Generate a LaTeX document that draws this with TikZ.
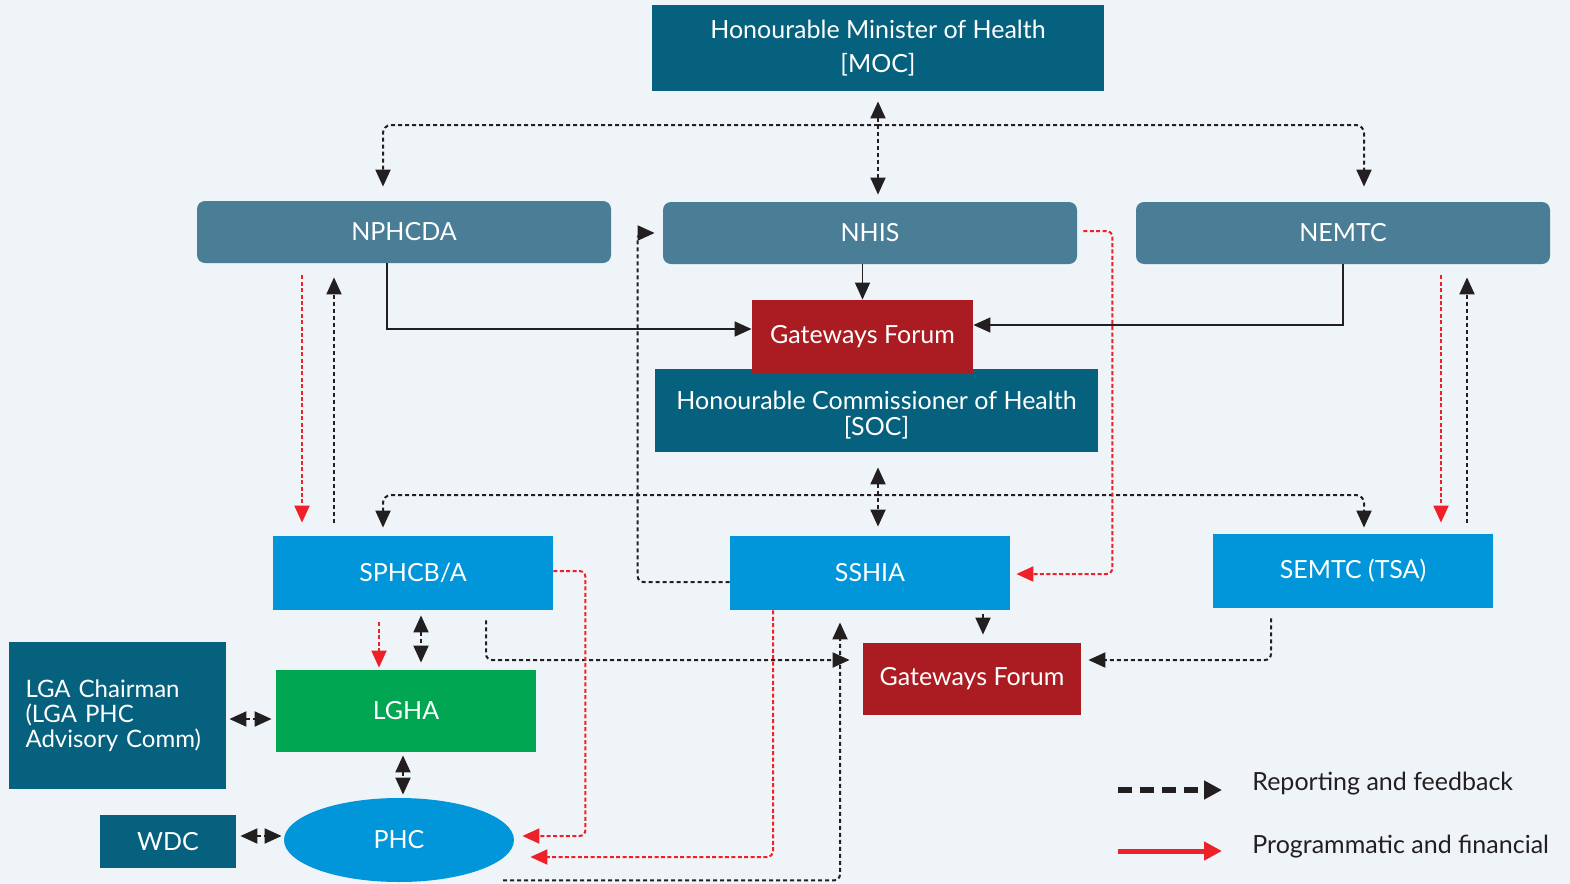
\documentclass[tikz,border=0pt]{standalone}
\usepackage{fontspec}
\setmainfont{Lato}
\usetikzlibrary{arrows.meta,calc,shapes.geometric}
\definecolor{bgpale}{HTML}{EFF4F8}
\definecolor{deepteal}{HTML}{05617D}
\definecolor{steel}{HTML}{4A7E97}
\definecolor{sky}{HTML}{0096D9}
\definecolor{forumred}{HTML}{AA1C22}
\definecolor{lgagreen}{HTML}{00A651}
\definecolor{fundred}{HTML}{EE2128}
\definecolor{ink}{HTML}{231F20}
\begin{document}
\begin{tikzpicture}[x=0.5pt,y=-0.5pt, >={Triangle[length=8.5pt,width=7.5pt]},
	every node/.style={font=\fontsize{12.5}{15}\selectfont, inner sep=0pt}]
	\tikzstyle{board} = [rectangle,fill=deepteal,text=white,align=center]
	\tikzstyle{agency} = [rectangle,rounded corners=4pt,fill=steel,text=white,minimum width=207pt,minimum height=31pt]
	\tikzstyle{state} = [rectangle,fill=sky,text=white,minimum width=140pt,minimum height=37pt]
	\tikzstyle{forum} = [rectangle,fill=forumred,text=white]
	\tikzstyle{feed} = [ink,line width=1pt,dash pattern=on 2pt off 1.5pt]
	\tikzstyle{fund} = [fundred,line width=1pt,dash pattern=on 2pt off 1.2pt]
	\tikzstyle{link} = [ink,line width=0.75pt]
	\useasboundingbox (0,0) rectangle (1570,884);
	\fill[bgpale] (0,0) rectangle (1570,884);
	
	% federal level
	\node[board,minimum width=226pt,minimum height=43pt](moc)at (878,48){Honourable Minister of Health\\[2pt][MOC]};
	\node[agency](nphcda)at (404,232){NPHCDA};
	\node[agency](nhis)at (870,233){NHIS};
	\node[agency](nemtc)at (1343,233){NEMTC};
	
	% state level
	\node[board,minimum width=221.5pt,minimum height=41.5pt](soc)at (876.5,410.5){\rule{0pt}{14pt}Honourable Commissioner of Health\\[-2pt][SOC]};
	\node[forum,minimum width=110.5pt,minimum height=36.5pt](gf-1)at (862.5,336.5){Gateways Forum};
	\node[state](sphcb)at (413,573){SPHCB/A};
	\node[state](sshia)at (870,573){SSHIA};
	\node[state](semtc)at (1353,571){SEMTC (TSA)};
	\node[forum,minimum width=109pt,minimum height=36pt](gf-2)at (972,679){Gateways Forum};
	
	% local level
	\node[board,minimum width=108.5pt,minimum height=73.5pt,text width=92pt,align=left,font=\fontsize{12}{12.5}\selectfont](lga)at (117.5,715.5){LGA Chairman\\(LGA PHC\\Advisory Comm)};
	\node[rectangle,fill=lgagreen,text=white,minimum width=130pt,minimum height=41pt](lgha)at (406,711){LGHA};
	\node[board,minimum width=68pt,minimum height=26.5pt](wdc)at (168,841.5){WDC};
	\node[ellipse,fill=sky,text=white,minimum width=115pt,minimum height=42pt](phc)at (399,840){PHC};
	
	\coordinate (top-hub) at (878,125);
	\coordinate (mid-hub) at (878,495);
	
	% solid links into the first forum
	\draw[link,->] (nhis.south -| gf-1.north) -- (gf-1.north);
	\draw[link,->] ($(nphcda.south)+(-17,0)$) |- ($(gf-1.west)+(0,-7.5)$);
	\draw[link,->] (nemtc.south) |- ($(gf-1.east)+(0,-11.5)$);
	
	% reporting and feedback
	\draw[feed,<->,shorten <=5pt,shorten >=3.5pt] (moc.south -| top-hub) -- (nhis.north -| top-hub);
	\draw[feed,->,rounded corners=4pt] (top-hub) -| ($(nphcda.north)+(-21,-14)$);
	\draw[feed,->,rounded corners=4pt] (top-hub) -| ($(nemtc.north)+(21,-15)$);
	\draw[feed,<->,shorten <=7.5pt,shorten >=4.5pt] (soc.south -| mid-hub) -- (sshia.north -| mid-hub);
	\draw[feed,->,rounded corners=4pt] (mid-hub) -| ($(sphcb.north)+(-30,-8)$);
	\draw[feed,->,rounded corners=4pt] (mid-hub) -| ($(semtc.north)+(11,-6)$);
	\path[feed,->] ($(sphcb.north)+(-79,-13)$) edge ($(nphcda.south)+(-70,14)$)
	($(semtc.north)+(114,-11)$) edge ($(nemtc.south)+(124,13)$)
	($(sshia.south)+(113,4)$) edge ($(gf-2.north)+(11,-8)$);
	\draw[feed,->,rounded corners=3pt] ($(sshia.west)+(0,9)$) -| ($(nhis.west)+(-25,0)$) -- ($(nhis.west)+(-8,0)$);
	\draw[feed,->,rounded corners=3pt] ($(sphcb.south)+(73,10)$) |- ($(gf-2.west)+(-13,-19)$);
	\draw[feed,->,rounded corners=3pt] ($(phc.south)+(104,-2)$) -| ($(sshia.south)+(-30,12)$);
	\draw[feed,->,rounded corners=3pt] ($(semtc.south)+(-82,10)$) |- ($(gf-2.east)+(7,-19)$);
	\path[feed,<->] ($(sphcb.south)+(8,5)$) edge ($(lgha.north)+(15,-7)$)
	($(lga.east)+(3,3.5)$) edge ($(lgha.west)+(-4,8)$)
	($(lgha.south)+(-3,3)$) edge ($(phc.north)+(4,-3)$)
	($(wdc.east)+(4,-5.5)$) edge ($(phc.west)+(-2,-4)$);
	
	% programmatic and financial
	\path[fund,->] ($(nphcda.south)+(-102,12)$) edge ($(sphcb.north)+(-111,-13)$)
	($(nemtc.south)+(98,11)$) edge ($(semtc.north)+(88,-11)$)
	($(sphcb.south)+(-34,12)$) edge ($(lgha.north)+(-27,-2)$);
	\draw[fund,->,rounded corners=3pt] ($(nhis.east)+(6,-2)$) -| ($(sshia.east)+(102,1)$) -- ($(sshia.east)+(6,1)$);
	\draw[fund,->,rounded corners=3pt] ($(sphcb.east)+(0,-2)$) -| ($(phc.east)+(71,-4)$) -- ($(phc.east)+(8,-4)$);
	\draw[fund,->,rounded corners=3pt] ($(sshia.south)+(-97,0)$) |- ($(phc.east)+(16,17)$);
	
	% key
	\coordinate (key-a1) at (1118,790);
	\coordinate (key-a2) at (1222,790);
	\coordinate (key-b1) at (1118,851);
	\coordinate (key-b2) at (1222,851);
	\draw[ink,line width=3pt,dash pattern=on 7pt off 4pt,-{Triangle[length=9pt,width=9pt]}] (key-a1) -- (key-a2);
	\draw[fundred,line width=2.5pt,-{Triangle[length=9pt,width=9pt]}] (key-b1) -- (key-b2);
	\node[anchor=west,text=ink](key-feed)at (1252,784){Reporting and feedback};
	\node[anchor=west,text=ink](key-fund)at (1252,847){Programmatic and financial};
	
\end{tikzpicture}
\end{document}
